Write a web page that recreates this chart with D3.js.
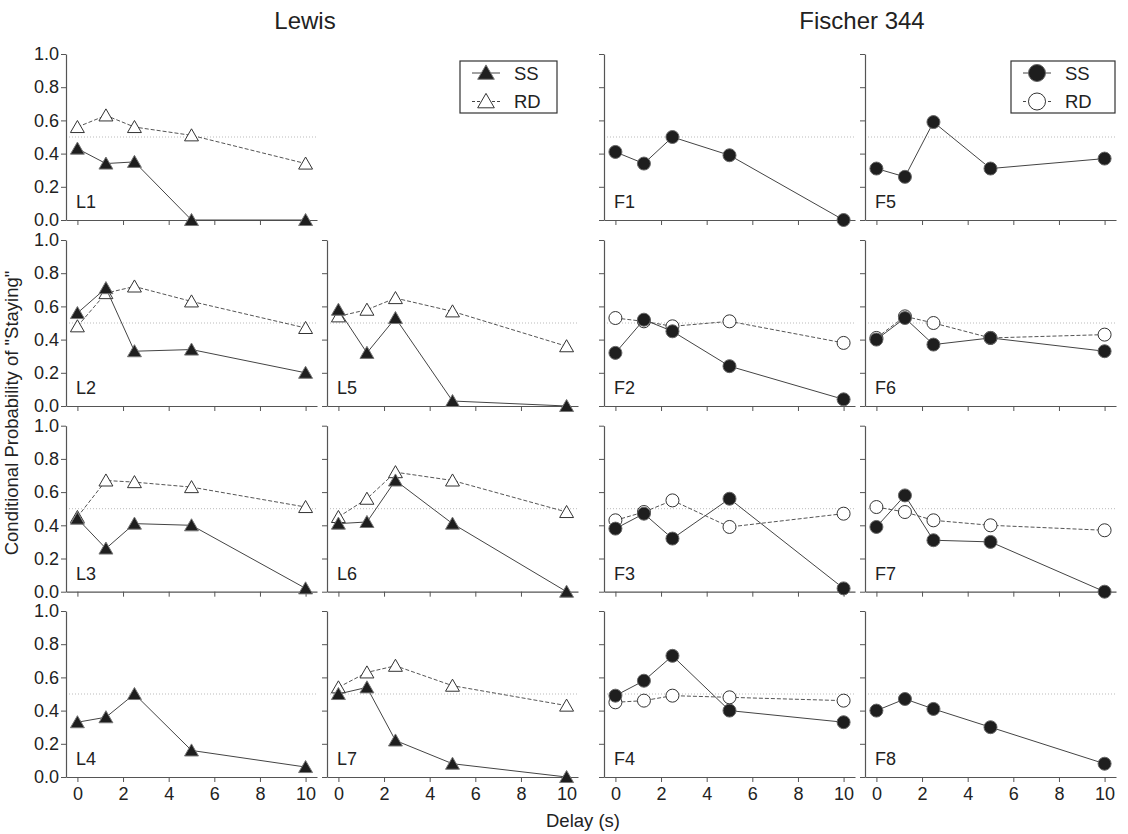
<!DOCTYPE html>
<html>
<head>
<meta charset="utf-8">
<script src="https://cdn.jsdelivr.net/npm/d3@7"></script>
<style>
  body { margin: 0; background: #fff; }
  text { font-family: "Liberation Sans", Arial, sans-serif; fill: #222; }
</style>
</head>
<body>
<svg width="1128" height="834"></svg>
<script>
// delays (s) at which each point was measured
const delays = [0, 1.25, 2.5, 5, 10];
const xTicks = [0, 2, 4, 6, 8, 10];
const yTicks = [0, 0.2, 0.4, 0.6, 0.8, 1.0];

// Lewis rats (SS = filled, RD = open)
const L1_SS = [0.43, 0.34, 0.35, 0.0, 0.0];
const L1_RD = [0.56, 0.63, 0.56, 0.51, 0.34];
const L2_SS = [0.56, 0.71, 0.33, 0.34, 0.20];
const L2_RD = [0.48, 0.68, 0.72, 0.63, 0.47];
const L3_SS = [0.44, 0.26, 0.41, 0.40, 0.02];
const L3_RD = [0.45, 0.67, 0.66, 0.63, 0.51];
const L4_SS = [0.33, 0.36, 0.50, 0.16, 0.06];
const L5_SS = [0.58, 0.32, 0.53, 0.03, 0.0];
const L5_RD = [0.54, 0.58, 0.65, 0.57, 0.36];
const L6_SS = [0.41, 0.42, 0.67, 0.41, 0.0];
const L6_RD = [0.45, 0.56, 0.72, 0.67, 0.48];
const L7_SS = [0.50, 0.54, 0.22, 0.08, 0.0];
const L7_RD = [0.54, 0.63, 0.67, 0.55, 0.43];

// Fischer 344 rats
const F1_SS = [0.41, 0.34, 0.50, 0.39, 0.0];
const F2_SS = [0.32, 0.52, 0.45, 0.24, 0.04];
const F2_RD = [0.53, 0.51, 0.48, 0.51, 0.38];
const F3_SS = [0.38, 0.47, 0.32, 0.56, 0.02];
const F3_RD = [0.43, 0.48, 0.55, 0.39, 0.47];
const F4_SS = [0.49, 0.58, 0.73, 0.40, 0.33];
const F4_RD = [0.45, 0.46, 0.49, 0.48, 0.46];
const F5_SS = [0.31, 0.26, 0.59, 0.31, 0.37];
const F6_SS = [0.40, 0.53, 0.37, 0.41, 0.33];
const F6_RD = [0.41, 0.54, 0.50, 0.41, 0.43];
const F7_SS = [0.39, 0.58, 0.31, 0.30, 0.0];
const F7_RD = [0.51, 0.48, 0.43, 0.40, 0.37];
const F8_SS = [0.40, 0.47, 0.41, 0.30, 0.08];

const panels = [
  { name: "L1", col: 0, row: 0, ss: L1_SS, rd: L1_RD, shape: "tri" },
  { name: "L2", col: 0, row: 1, ss: L2_SS, rd: L2_RD, shape: "tri" },
  { name: "L3", col: 0, row: 2, ss: L3_SS, rd: L3_RD, shape: "tri" },
  { name: "L4", col: 0, row: 3, ss: L4_SS, rd: null, shape: "tri" },
  { name: "L5", col: 1, row: 1, ss: L5_SS, rd: L5_RD, shape: "tri" },
  { name: "L6", col: 1, row: 2, ss: L6_SS, rd: L6_RD, shape: "tri" },
  { name: "L7", col: 1, row: 3, ss: L7_SS, rd: L7_RD, shape: "tri" },
  { name: "F1", col: 2, row: 0, ss: F1_SS, rd: null, shape: "circ" },
  { name: "F2", col: 2, row: 1, ss: F2_SS, rd: F2_RD, shape: "circ" },
  { name: "F3", col: 2, row: 2, ss: F3_SS, rd: F3_RD, shape: "circ" },
  { name: "F4", col: 2, row: 3, ss: F4_SS, rd: F4_RD, shape: "circ" },
  { name: "F5", col: 3, row: 0, ss: F5_SS, rd: null, shape: "circ" },
  { name: "F6", col: 3, row: 1, ss: F6_SS, rd: F6_RD, shape: "circ" },
  { name: "F7", col: 3, row: 2, ss: F7_SS, rd: F7_RD, shape: "circ" },
  { name: "F8", col: 3, row: 3, ss: F8_SS, rd: null, shape: "circ" }
];

const svg = d3.select("svg");

// panel geometry
const colX = [66, 327, 604, 865];
const rowY = [54, 240, 425.7, 611];
const pw = 251, ph = 166;

const x = d3.scaleLinear().domain([-0.5, 10.5]).range([0, pw]);
const y = d3.scaleLinear().domain([0, 1]).range([ph, 0]);

const axisColor = "#555";

function drawMarker(g, shape, filled, big) {
  if (shape === "tri") {
    g.append("path")
      .attr("d", d3.symbol(d3.symbolTriangle, big ? 120 : 84)())
      .attr("transform", "translate(0,1.5)")
      .attr("fill", filled ? "#1e1e1e" : "#fff")
      .attr("stroke", filled ? "#777" : "#333")
      .attr("stroke-width", 1);
  } else {
    g.append("circle")
      .attr("r", big ? 8.5 : 6.5)
      .attr("fill", filled ? "#1e1e1e" : "#fff")
      .attr("stroke", filled ? "#666" : "#333")
      .attr("stroke-width", 1);
  }
}

const line = d3.line()
  .x((d, i) => x(delays[i]))
  .y(d => y(d));

panels.forEach(p => {
  const g = svg.append("g")
    .attr("transform", `translate(${colX[p.col]},${rowY[p.row]})`);

  // 0.5 chance line
  g.append("line")
    .attr("x1", 0).attr("x2", pw)
    .attr("y1", y(0.5)).attr("y2", y(0.5))
    .attr("stroke", "#aaa")
    .attr("stroke-width", 0.8)
    .attr("stroke-dasharray", "1,2");

  const yAxis = g.append("g")
    .call(d3.axisLeft(y).tickValues(yTicks).tickSize(5).tickSizeOuter(0)
      .tickFormat(p.col === 0 ? d3.format(".1f") : ""));
  const xAxis = g.append("g")
    .attr("transform", `translate(0,${ph})`)
    .call(d3.axisBottom(x).tickValues(xTicks).tickSize(5).tickSizeOuter(0)
      .tickFormat(p.row === 3 ? d3.format("d") : ""));

  [yAxis, xAxis].forEach(a => {
    a.select(".domain").attr("stroke", axisColor).attr("stroke-width", 1.2);
    a.selectAll(".tick line").attr("stroke", axisColor);
    a.selectAll(".tick text")
      .style("font-family", '"Liberation Sans", Arial, sans-serif')
      .style("font-size", "18px")
      .attr("fill", "#222");
  });
  yAxis.selectAll(".tick text").attr("x", -7);
  xAxis.selectAll(".tick text").attr("y", 10);

  // RD series (dashed, open markers) below SS
  if (p.rd) {
    g.append("path")
      .datum(p.rd)
      .attr("d", line)
      .attr("fill", "none")
      .attr("stroke", "#555")
      .attr("stroke-width", 1)
      .attr("stroke-dasharray", "4,2");
    p.rd.forEach((v, i) => {
      drawMarker(g.append("g").attr("transform", `translate(${x(delays[i])},${y(v)})`), p.shape, false, false);
    });
  }

  g.append("path")
    .datum(p.ss)
    .attr("d", line)
    .attr("fill", "none")
    .attr("stroke", "#444")
    .attr("stroke-width", 1);
  p.ss.forEach((v, i) => {
    drawMarker(g.append("g").attr("transform", `translate(${x(delays[i])},${y(v)})`), p.shape, true, false);
  });

  g.append("text")
    .attr("x", 10)
    .attr("y", ph - 12)
    .style("font-size", "18px")
    .text(p.name);
});

// legends
function legend(x0, y0, w, shape) {
  const lg = svg.append("g").attr("transform", `translate(${x0},${y0})`);
  lg.append("rect")
    .attr("width", w).attr("height", 52)
    .attr("fill", "#fff")
    .attr("stroke", "#333")
    .attr("stroke-width", 1.2);
  [["SS", true, 12], ["RD", false, 40.5]].forEach(([lab, filled, yy]) => {
    lg.append("line")
      .attr("x1", 12).attr("x2", 40)
      .attr("y1", yy).attr("y2", yy)
      .attr("stroke", "#444")
      .attr("stroke-dasharray", filled ? null : "3,2");
    drawMarker(lg.append("g").attr("transform", `translate(26,${yy})`), shape, filled, true);
    lg.append("text")
      .attr("x", 54).attr("y", yy + 6.5)
      .style("font-size", "18.5px")
      .text(lab);
  });
}
legend(460, 61, 97, "tri");
legend(1011, 61, 104, "circ");

// titles
svg.append("text")
  .attr("x", 305).attr("y", 29)
  .attr("text-anchor", "middle")
  .style("font-size", "24px")
  .text("Lewis");
svg.append("text")
  .attr("x", 862).attr("y", 29)
  .attr("text-anchor", "middle")
  .style("font-size", "24px")
  .text("Fischer 344");

svg.append("text")
  .attr("x", 583).attr("y", 827)
  .attr("text-anchor", "middle")
  .style("font-size", "18.5px")
  .text("Delay (s)");

svg.append("text")
  .attr("transform", "translate(18,413) rotate(-90)")
  .attr("text-anchor", "middle")
  .style("font-size", "18.5px")
  .text('Conditional Probability of "Staying"');
</script>
</body>
</html>
